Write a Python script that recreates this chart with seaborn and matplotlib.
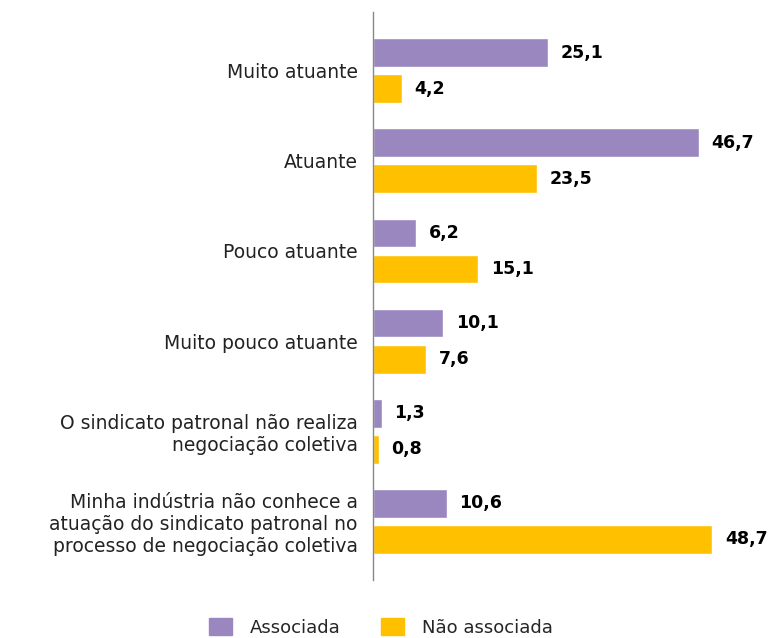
import pandas as pd
import matplotlib
matplotlib.use("Agg")
import matplotlib.pyplot as plt
import seaborn as sns

categories = [
    "Muito atuante",
    "Atuante",
    "Pouco atuante",
    "Muito pouco atuante",
    "O sindicato patronal não realiza\nnegociação coletiva",
    "Minha indústria não conhece a\natuação do sindicato patronal no\nprocesso de negociação coletiva",
]
associada = [25.1, 46.7, 6.2, 10.1, 1.3, 10.6]
nao_associada = [4.2, 23.5, 15.1, 7.6, 0.8, 48.7]
series_names = ["Associada", "Não associada"]
colors = ["#9B87BF", "#FFC000"]

df = pd.DataFrame({
    "categoria": categories * 2,
    "valor": associada + nao_associada,
    "grupo": [series_names[0]] * len(categories) + [series_names[1]] * len(categories),
})

sns.set_style("white")
plt.rcParams["font.family"] = ["DejaVu Sans"]

fig = plt.figure(figsize=(7.77, 6.38), dpi=100)
ax = fig.add_axes([0.48, 0.091, 0.498, 0.890])

sns.barplot(data=df, y="categoria", x="valor", hue="grupo", order=categories,
            hue_order=series_names, palette=colors, orient="h", width=0.8,
            gap=0.2, ax=ax, legend=False, saturation=1)

for cont in ax.containers:
    ax.bar_label(cont, labels=[f"{v:.1f}".replace(".", ",") for v in cont.datavalues],
                 padding=9, fontsize=12.5, fontweight="bold", color="black")

ax.set_xlim(0, 55.5)
ax.set_ylim(5.65, -0.65)
ax.set_xlabel("")
ax.set_ylabel("")
ax.set_xticks([])
ax.tick_params(axis="y", length=0, labelsize=13.5, pad=11, colors="#222222")
for lab in ax.get_yticklabels():
    lab.set_horizontalalignment("right")
    lab.set_multialignment("right")
for s in ["top", "right", "bottom"]:
    ax.spines[s].set_visible(False)
ax.spines["left"].set_color("#888888")
ax.spines["left"].set_linewidth(1)

handles = [plt.Rectangle((0, 0), 1, 1, color=c) for c in colors]
fig.legend(handles, series_names, loc="center", bbox_to_anchor=(0.49, 0.017),
           ncol=2, frameon=False, fontsize=13, handlelength=1.3, handleheight=1.1,
           columnspacing=2.2, handletextpad=1.0)

fig.savefig("out.png", dpi=100)
